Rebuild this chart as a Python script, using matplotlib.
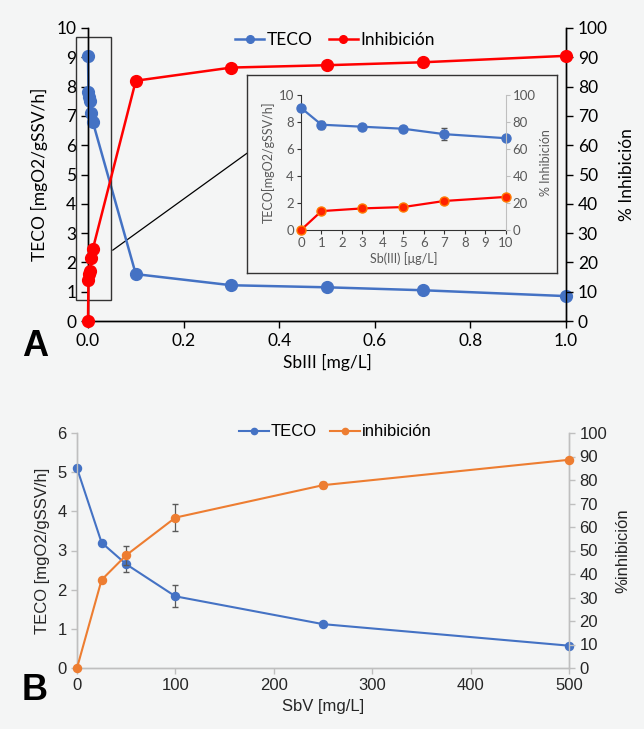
import matplotlib
matplotlib.use("Agg")
import matplotlib.pyplot as plt
from matplotlib.lines import Line2D
from matplotlib.patches import Rectangle

# ---------------- data ----------------
# Panel A (SbIII, mg/L)
a_x = [0.0, 0.001, 0.003, 0.005, 0.007, 0.010, 0.1, 0.3, 0.5, 0.7, 1.0]
a_teco = [9.05, 7.8, 7.65, 7.5, 7.1, 6.8, 1.6, 1.22, 1.15, 1.05, 0.85]
a_inhib = [0.0, 14.0, 16.0, 17.0, 21.5, 24.5, 82.0, 86.5, 87.3, 88.3, 90.5]

# Inset (SbIII, ug/L)
in_x = [0, 1, 3, 5, 7, 10]
in_teco = [9.05, 7.8, 7.65, 7.5, 7.1, 6.8]
in_teco_err = [0.0, 0.3, 0.2, 0.1, 0.45, 0.05]
in_inhib = [0.0, 14.0, 16.0, 17.0, 21.5, 24.5]

# Panel B (SbV, mg/L)
b_x = [0, 25, 50, 100, 250, 500]
b_teco = [5.1, 3.2, 2.65, 1.83, 1.12, 0.57]
b_teco_err = [0.0, 0.0, 0.2, 0.28, 0.0, 0.0]
b_inhib = [0.0, 37.5, 48.0, 64.0, 77.8, 88.6]
b_inhib_err = [0.0, 0.0, 4.0, 5.8, 1.2, 0.0]

BG = "#f4f5f5"
BLUE = "#4472C4"
RED = "#FF0000"
ORANGE = "#ED7D31"

W, H = 644, 729
fig = plt.figure(figsize=(W / 100, H / 100), dpi=100, facecolor=BG)

def fx(p):
    return p / W

def fy(p):
    return 1 - p / H

FA = "Lato"
FB = "Liberation Sans"

# ---------------- Panel A main ----------------
axA = fig.add_axes([fx(88), fy(321), fx(566 - 88), (321 - 28) / H])
axA.set_facecolor(BG)
axA2 = axA.twinx()
axA2.patch.set_visible(False)

axA.plot(a_x, a_teco, color=BLUE, lw=1.8, marker="o", ms=8.5, zorder=3, clip_on=False)
axA2.plot(a_x, a_inhib, color=RED, lw=1.8, marker="o", ms=8.5, zorder=3, clip_on=False)

axA.set_xlim(0, 1.0)
axA.set_ylim(0, 10)
axA2.set_ylim(0, 100)
axA.set_xticks([0, 0.2, 0.4, 0.6, 0.8, 1.0])
axA.set_xticklabels(["0.0", "0.2", "0.4", "0.6", "0.8", "1.0"])
axA.set_yticks(range(0, 11))
axA2.set_yticks(range(0, 101, 10))
for ax in (axA, axA2):
    for s in ax.spines.values():
        s.set_color("black")
        s.set_linewidth(1.0)
    ax.spines["top"].set_visible(False)
    ax.tick_params(colors="black", labelsize=12.5, length=5, width=1.0, direction="out")
    for lab in ax.get_xticklabels() + ax.get_yticklabels():
        lab.set_fontfamily(FA)
axA.set_ylabel("TECO [mgO2/gSSV/h]", fontsize=12.5, fontfamily=FA, labelpad=6)
axA2.set_ylabel("% Inhibición", fontsize=12.5, fontfamily=FA, labelpad=8)
axA.set_xlabel("SbIII [mg/L]", fontsize=12.5, fontfamily=FA, labelpad=4)

# small rectangle around x~0 and connector line
axA.add_patch(Rectangle((-0.025, 0.72), 0.073, 8.97, fill=False, ec="#333333", lw=1.0,
                        clip_on=False, zorder=4))
axA.plot([0.052, 0.333], [2.42, 5.73], color="black", lw=0.9, clip_on=False, zorder=1)

# Legend A
hA = [Line2D([], [], color=BLUE, lw=1.8, marker="o", ms=5.5),
      Line2D([], [], color=RED, lw=1.8, marker="o", ms=5.5)]
fig.legend(hA, ["TECO", "Inhibición"], loc="center", bbox_to_anchor=(fx(335), fy(40)),
           ncol=2, frameon=False, prop={"family": FA, "size": 12.5},
           handlelength=1.7, columnspacing=0.9, handletextpad=0.15)

# ---------------- Inset frame ----------------
axF = fig.add_axes([fx(247), fy(273), fx(557 - 247), (273 - 75) / H])
axF.set_facecolor(BG)
axF.set_xticks([])
axF.set_yticks([])
for s in axF.spines.values():
    s.set_color("#333333")
    s.set_linewidth(1.0)

# ---------------- Inset ----------------
GR = "#595959"
axI = fig.add_axes([fx(301), fy(230), fx(505.7 - 301), (230 - 95) / H])
axI.patch.set_visible(False)
axI2 = axI.twinx()
axI2.patch.set_visible(False)
axI.errorbar(in_x, in_teco, yerr=in_teco_err, color=BLUE, lw=1.6, marker="o", ms=6.5,
             ecolor="#555555", elinewidth=0.8, capsize=2, zorder=3, clip_on=False)
axI2.plot(in_x, in_inhib, color=RED, lw=1.6, marker="o", ms=6.5, mfc="#ff2200",
          mec="#ff7a00", mew=1.0, zorder=3, clip_on=False)
axI.set_xlim(0, 10)
axI.set_ylim(0, 10)
axI2.set_ylim(0, 100)
axI.set_xticks(range(0, 11))
axI.set_yticks(range(0, 11, 2))
axI2.set_yticks(range(0, 101, 20))
for ax in (axI, axI2):
    ax.spines["top"].set_visible(False)
    ax.tick_params(colors=GR, labelsize=9.5, length=3, width=0.8, direction="out", pad=2)
    for lab in ax.get_xticklabels() + ax.get_yticklabels():
        lab.set_fontfamily(FA)
axI.tick_params(axis="both", color="#333333")
axI.spines["left"].set_color("#333333")
axI.spines["bottom"].set_color("#333333")
axI.spines["right"].set_visible(False)
axI2.spines["left"].set_visible(False)
axI2.spines["bottom"].set_visible(False)
axI2.spines["right"].set_color("#bfbfbf")
axI2.tick_params(axis="y", color="#bfbfbf")
axI.set_ylabel("TECO[mgO2/gSSV/h]", fontsize=9, color=GR, fontfamily=FA, labelpad=3)
axI2.set_ylabel("% Inhibición", fontsize=9, color=GR, fontfamily=FA, labelpad=3)
axI.set_xlabel("Sb(III) [μg/L]", fontsize=9, color=GR, fontfamily=FA, labelpad=2)

fig.text(fx(22), fy(346), "A", fontsize=26, fontweight="bold", fontfamily="Liberation Sans",
         va="center", ha="left")

# ---------------- Panel B ----------------
axB = fig.add_axes([fx(77), fy(668), fx(569 - 77), (668 - 433) / H])
axB.set_facecolor(BG)
axB2 = axB.twinx()
axB2.patch.set_visible(False)
axB.errorbar(b_x, b_teco, yerr=b_teco_err, color=BLUE, lw=1.5, marker="o", ms=5.8,
             ecolor="#595959", elinewidth=0.9, capsize=2.5, zorder=3, clip_on=False)
axB2.errorbar(b_x, b_inhib, yerr=b_inhib_err, color=ORANGE, lw=1.5, marker="o", ms=5.8,
              ecolor="#595959", elinewidth=0.9, capsize=2.5, zorder=3, clip_on=False)
axB.set_xlim(0, 500)
axB.set_ylim(0, 6)
axB2.set_ylim(0, 100)
axB.set_xticks(range(0, 501, 100))
axB.set_yticks(range(0, 7))
axB2.set_yticks(range(0, 101, 10))
for ax in (axB, axB2):
    for s in ax.spines.values():
        s.set_color("#bfbfbf")
        s.set_linewidth(1.0)
    ax.spines["top"].set_visible(False)
    ax.tick_params(color="#bfbfbf", labelcolor="#262626", labelsize=12, length=4,
                   width=1.0, direction="out")
    for lab in ax.get_xticklabels() + ax.get_yticklabels():
        lab.set_fontfamily(FB)
axB.set_ylabel("TECO [mgO2/gSSV/h]", fontsize=12, fontfamily=FB, color="#262626", labelpad=5)
axB2.set_ylabel("%inhibición", fontsize=12, fontfamily=FB, color="#262626", labelpad=6)
axB.set_xlabel("SbV [mg/L]", fontsize=12, fontfamily=FB, color="#262626", labelpad=4)

hB = [Line2D([], [], color=BLUE, lw=1.5, marker="o", ms=4.5),
      Line2D([], [], color=ORANGE, lw=1.5, marker="o", ms=4.5)]
fig.legend(hB, ["TECO", "inhibición"], loc="center", bbox_to_anchor=(fx(335), fy(432)),
           ncol=2, frameon=False, prop={"family": FB, "size": 12},
           handlelength=1.8, columnspacing=0.8, handletextpad=0.1)

fig.text(fx(22), fy(690), "B", fontsize=26, fontweight="bold", fontfamily="Liberation Sans",
         va="center", ha="left")

fig.savefig("out.png", dpi=100, facecolor=BG)
